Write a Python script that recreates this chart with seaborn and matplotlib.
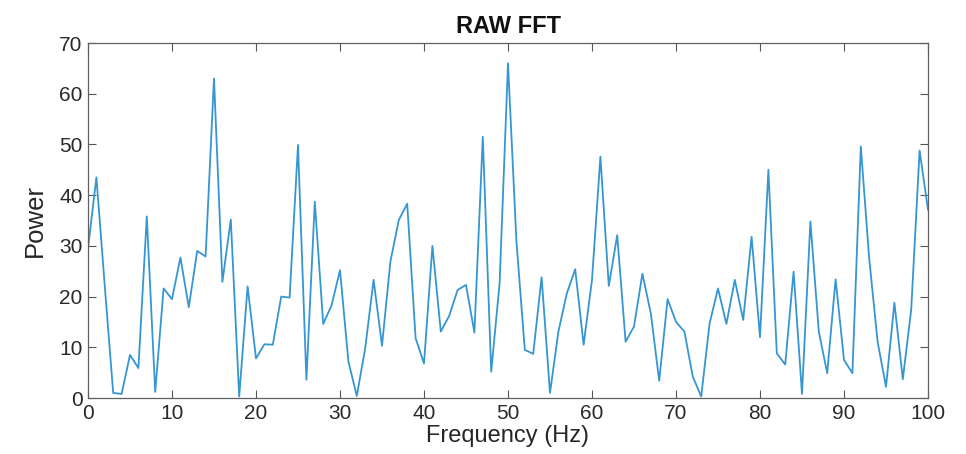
import matplotlib
matplotlib.use("Agg")
import matplotlib.pyplot as plt
import seaborn as sns
import numpy as np
import pandas as pd

freq = list(range(0, 101))
power = [
    29.5, 43.5, 22.0, 1.0, 0.8, 8.5, 5.9, 35.8, 1.2, 21.6,
    19.5, 27.7, 17.9, 29.0, 27.9, 63.0, 22.9, 35.2, 0.3, 22.0,
    7.8, 10.6, 10.5, 20.0, 19.8, 49.9, 3.6, 38.7, 14.6, 18.3,
    25.2, 7.2, 0.4, 9.8, 23.3, 10.3, 26.9, 35.1, 38.3, 11.8,
    6.8, 30.0, 13.1, 16.2, 21.3, 22.3, 12.9, 51.5, 5.2, 22.6,
    66.0, 31.0, 9.5, 8.7, 23.8, 1.0, 13.1, 20.6, 25.4, 10.5,
    23.3, 47.6, 22.1, 32.1, 11.1, 14.1, 24.5, 16.7, 3.4, 19.5,
    15.0, 13.1, 4.2, 0.3, 14.7, 21.6, 14.6, 23.3, 15.4, 31.8,
    12.0, 45.0, 8.8, 6.6, 24.9, 0.8, 34.8, 13.1, 4.9, 23.4,
    7.5, 4.9, 49.6, 27.5, 11.1, 2.2, 18.8, 3.7, 17.4, 48.8,
    37.1,
]
xticks = list(range(0, 101, 10))
yticks = list(range(0, 71, 10))

df = pd.DataFrame({"Frequency": freq, "Power": power})

sns.set_theme(style="white")
plt.rcParams["font.family"] = ["Liberation Sans", "DejaVu Sans"]

fig = plt.figure(figsize=(9.66, 4.54), dpi=100)
ax = fig.add_axes([88/966, 1-398/454, (928-88)/966, (398-43)/454])

sns.lineplot(data=df, x="Frequency", y="Power", ax=ax, color="#3596d2", linewidth=1.3)

ax.set_xlim(0, 100)
ax.set_ylim(0, 70)
ax.set_xticks(xticks)
ax.set_yticks(yticks)
ax.set_xticklabels([str(t) for t in xticks], fontsize=15, color="#2a2a2a")
ax.set_yticklabels([str(t) for t in yticks], fontsize=15, color="#2a2a2a")
ax.tick_params(direction="in", length=6, width=0.8, color="#555555",
               top=True, right=True, bottom=True, left=True, pad=4)
for s in ax.spines.values():
    s.set_visible(True)
    s.set_color("#606060")
    s.set_linewidth(0.9)

ax.set_xlabel("Frequency (Hz)", fontsize=17, color="#262626", labelpad=2)
ax.set_ylabel("Power", fontsize=18.5, color="#262626", labelpad=9)
ax.set_title("RAW FFT", fontsize=17, fontweight="bold", color="#111111", pad=7)

fig.savefig("out.png", dpi=100, facecolor="white")
